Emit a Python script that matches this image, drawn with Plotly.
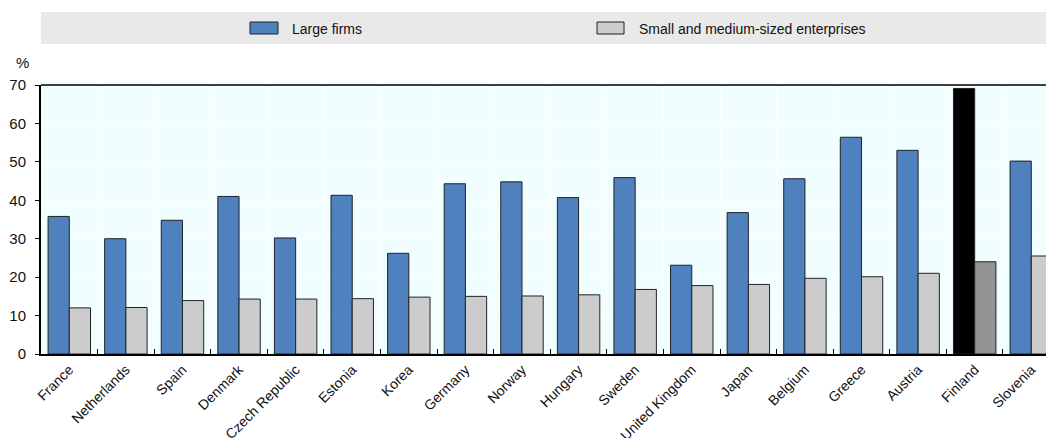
import plotly.graph_objects as go

countries = ["France", "Netherlands", "Spain", "Denmark", "Czech Republic", "Estonia", "Korea",
             "Germany", "Norway", "Hungary", "Sweden", "United Kingdom", "Japan", "Belgium",
             "Greece", "Austria", "Finland", "Slovenia"]
large_firms = [35.8, 30.0, 34.8, 41.0, 30.2, 41.3, 26.2, 44.3, 44.8, 40.7, 45.9, 23.1,
               36.8, 45.6, 56.4, 53.0, 69.1, 50.2]
smes = [12.0, 12.1, 13.9, 14.3, 14.3, 14.4, 14.8, 15.0, 15.1, 15.4, 16.8, 17.8,
        18.1, 19.7, 20.1, 21.0, 24.0, 25.5]
y_ticks = [0, 10, 20, 30, 40, 50, 60, 70]
series_names = ["Large firms", "Small and medium-sized enterprises"]
series_colors = ["#4e81bd", "#cccccc"]
highlight = "Finland"
highlight_colors = ["#000000", "#929292"]

blue_cols = [highlight_colors[0] if c == highlight else series_colors[0] for c in countries]
grey_cols = [highlight_colors[1] if c == highlight else series_colors[1] for c in countries]

FONT = "Liberation Sans Narrow, Arial Narrow, Liberation Sans, Arial, sans-serif"
OUT = "#222222"

fig = go.Figure()
fig.add_trace(go.Bar(x=countries, y=large_firms, name=series_names[0],
                     marker=dict(color=blue_cols, line=dict(color=OUT, width=1))))
fig.add_trace(go.Bar(x=countries, y=smes, name=series_names[1],
                     marker=dict(color=grey_cols, line=dict(color=OUT, width=1))))

# plot area on screen spans x 41..1046, y 85..354
PW, PH = 1005.0, 269.0
def px(sx):
    return (sx - 41) / PW
def py(sy):
    return (354 - sy) / PH

shapes = [
    dict(type="rect", xref="paper", yref="paper", x0=0, x1=1, y0=py(44), y1=py(12),
         fillcolor="#e9e9e9", line=dict(width=0), layer="below"),
    dict(type="line", xref="paper", yref="paper", x0=0, x1=1, y0=1, y1=1,
         line=dict(color="#000000", width=1.5)),
]
annotations = [
    dict(text="%", xref="paper", yref="paper", x=px(22), y=py(62), xanchor="center",
         yanchor="middle", showarrow=False, font=dict(size=15)),
]
legend_pos = [(250, 278, 290), (597, 624, 637)]
for (x0, x1, tx), name, col in zip(legend_pos, series_names, series_colors):
    shapes.append(dict(type="rect", xref="paper", yref="paper", x0=px(x0), x1=px(x1),
                       y0=py(34), y1=py(22), fillcolor=col, line=dict(color=OUT, width=1)))
    annotations.append(dict(text=name, xref="paper", yref="paper", x=px(tx), y=py(29),
                            xanchor="left", yanchor="middle", showarrow=False,
                            font=dict(size=14)))

fig.update_layout(
    width=1046, height=438,
    margin=dict(l=41, r=0, t=85, b=84),
    paper_bgcolor="white",
    plot_bgcolor="#f0feff",
    barmode="group",
    bargap=0.25,
    bargroupgap=0,
    font=dict(family=FONT, size=14, color="#111111"),
    showlegend=False,
    xaxis=dict(range=[-0.5, 17.26], tickangle=-45, tickson="boundaries", ticks="inside",
               ticklen=5, tickcolor="#000000", tickwidth=1, showgrid=True, gridcolor="white",
               gridwidth=1, showline=True, linecolor="#000000", linewidth=2,
               tickfont=dict(size=14), automargin=False, fixedrange=True),
    yaxis=dict(range=[0, 70], tickvals=y_ticks, ticks="outside", ticklen=4, tickcolor="#000000",
               showgrid=True, gridcolor="white", gridwidth=1, showline=True, linecolor="#000000",
               linewidth=2, zeroline=False, tickfont=dict(size=15), ticklabelstandoff=6,
               automargin=False, fixedrange=True),
    shapes=shapes,
    annotations=annotations,
)

fig.write_html("out.html", config={"displayModeBar": False},
               post_script="document.body.style.margin='0';document.body.style.overflow='hidden';")
